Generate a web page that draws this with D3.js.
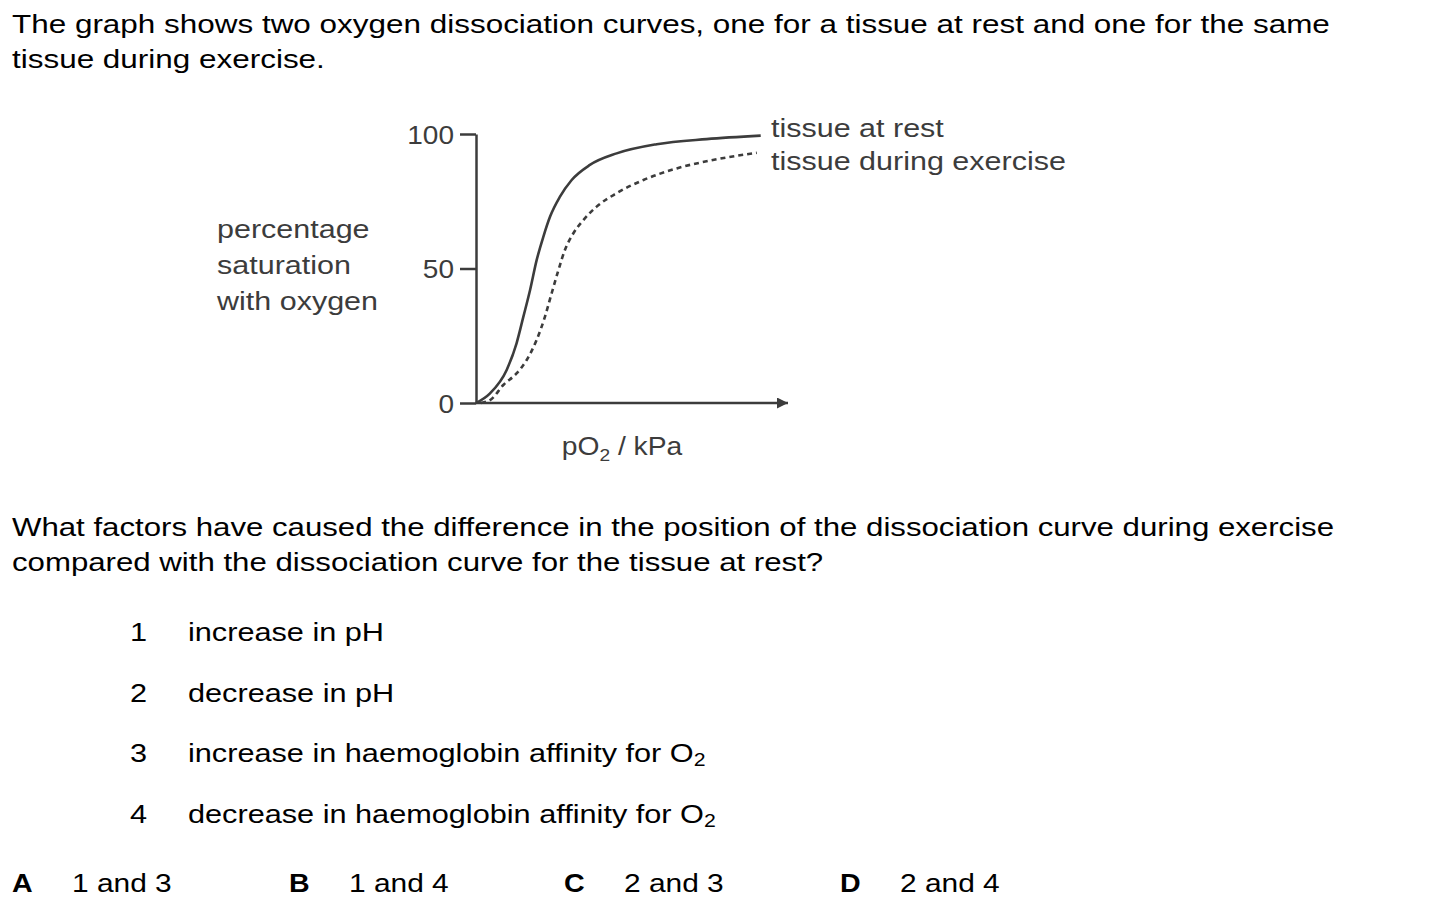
<!DOCTYPE html>
<html>
<head>
<meta charset="utf-8">
<script src="https://cdn.jsdelivr.net/npm/d3@7"></script>
<style>
  html, body { margin: 0; padding: 0; background: #fff; }
  svg { display: block; }
  text { font-family: "Liberation Sans", Arial, Helvetica, sans-serif; }
</style>
</head>
<body>
<svg id="chart" width="1431" height="912"></svg>
<script>
// ---- data ----
const introLines = [
  "The graph shows two oxygen dissociation curves, one for a tissue at rest and one for the same",
  "tissue during exercise."
];
const questionLines = [
  "What factors have caused the difference in the position of the dissociation curve during exercise",
  "compared with the dissociation curve for the tissue at rest?"
];
const itemNumbers = ["1", "2", "3", "4"];
const itemTexts = [
  ["increase in pH", ""],
  ["decrease in pH", ""],
  ["increase in haemoglobin affinity for O", "2"],
  ["decrease in haemoglobin affinity for O", "2"]
];
const answerLetters = ["A", "B", "C", "D"];
const answerTexts = ["1 and 3", "1 and 4", "2 and 3", "2 and 4"];

const yTicks = [0, 50, 100];
const yLabelLines = ["percentage", "saturation", "with oxygen"];
const seriesNames = ["tissue at rest", "tissue during exercise"];

const pO2Rest = [0, 0.54, 1.18, 1.56, 1.82, 2.08, 2.33, 2.59, 2.85, 3.23, 3.68, 4.38, 5.41, 6.95, 8.87, 10.95];
const satRest = [0, 3.6, 12.3, 22.2, 32, 42, 53, 61.8, 69.3, 76.7, 82.9, 88.5, 92.8, 96.2, 98.1, 99.4];
const pO2Exercise = [0.2, 0.6, 1.05, 1.56, 1.95, 2.33, 2.65, 2.91, 3.17, 3.42, 3.74, 4.13, 4.64, 5.41, 6.44, 7.72, 9.26, 10.8];
const satExercise = [0, 1.5, 6.7, 11, 16, 23.4, 32, 40.8, 49.4, 56.9, 63, 68, 73, 78, 82.9, 87.2, 90.6, 93];

// ---- drawing ----
const svg = d3.select("#chart");
const FS = 26;
const ink = "#000";
const grey = "#3c3c3c";

function stretchedText(g, x, y, opts = {}) {
  const sx = opts.sx || 1.2;
  return g.append("text")
    .attr("transform", `translate(${x},${y}) scale(${sx},1)`)
    .attr("font-size", opts.size || FS)
    .attr("fill", opts.fill || ink)
    .attr("font-weight", opts.weight || "normal")
    .attr("text-anchor", opts.anchor || "start");
}

// intro
introLines.forEach((s, i) => stretchedText(svg, 12, 33 + i * 35, { sx: 1.21 }).text(s));
// question
questionLines.forEach((s, i) => stretchedText(svg, 12, 536 + i * 35, { sx: 1.2 }).text(s));
// items
itemNumbers.forEach((n, i) => {
  const yb = 641 + i * 60.5;
  stretchedText(svg, 130, yb, { sx: 1.18 }).text(n);
  const t = stretchedText(svg, 188, yb, { sx: 1.18 });
  t.append("tspan").text(itemTexts[i][0]);
  if (itemTexts[i][1]) t.append("tspan").attr("font-size", 18).attr("dy", 4).text(itemTexts[i][1]);
});
// answers
const ansX = [12, 289, 564, 840];
answerLetters.forEach((L, i) => {
  stretchedText(svg, ansX[i], 892, { weight: "bold", sx: 1.1 }).text(L);
  stretchedText(svg, ansX[i] + 60, 892, { sx: 1.15 }).text(answerTexts[i]);
});

// chart
const x = d3.scaleLinear().domain([0, 12]).range([476, 788]);
const y = d3.scaleLinear().domain([0, 100]).range([403, 134]);

const defs = svg.append("defs");
defs.append("marker")
  .attr("id", "arrow").attr("viewBox", "0 0 10 10")
  .attr("refX", 10).attr("refY", 5)
  .attr("markerWidth", 22).attr("markerHeight", 11)
  .attr("markerUnits", "userSpaceOnUse")
  .attr("orient", "auto")
  .append("path").attr("d", "M0,0 L10,5 L0,10 Z").attr("fill", grey);

const yAxis = d3.axisLeft(y).tickValues(yTicks).tickSize(16).tickSizeOuter(0).tickPadding(6);
const gy = svg.append("g").attr("transform", `translate(${x(0)},0)`).call(yAxis);
gy.select(".domain").attr("stroke", grey).attr("stroke-width", 2.5);
gy.selectAll(".tick line").attr("stroke", grey).attr("stroke-width", 2.5);
gy.selectAll(".tick text").remove();
gy.selectAll(".tick").each(function(d) {
  stretchedText(d3.select(this), -22, 9, { anchor: "end", fill: grey, size: 25, sx: 1.12 }).text(d);
});

// x axis with arrow
svg.append("line")
  .attr("x1", x(0)).attr("x2", x(12))
  .attr("y1", y(0)).attr("y2", y(0))
  .attr("stroke", grey).attr("stroke-width", 2.5)
  .attr("marker-end", "url(#arrow)");

// y label
yLabelLines.forEach((s, i) => stretchedText(svg, 217, 238 + i * 36, { fill: grey, size: 25, sx: 1.22 }).text(s));

// x label
const xl = stretchedText(svg, 622, 455, { anchor: "middle", fill: grey, size: 25, sx: 1.13 });
xl.append("tspan").text("pO");
xl.append("tspan").attr("font-size", 17).attr("dy", 6).text("2");
xl.append("tspan").attr("dy", -6).text(" / kPa");

// curves
const line = d3.line().x(d => x(d[0])).y(d => y(d[1])).curve(d3.curveMonotoneX);
const restData = pO2Rest.map((v, i) => [v, satRest[i]]);
const exData = pO2Exercise.map((v, i) => [v, satExercise[i]]);

svg.append("path").datum(restData).attr("d", line)
  .attr("fill", "none").attr("stroke", grey).attr("stroke-width", 2.6);
svg.append("path").datum(exData).attr("d", line)
  .attr("fill", "none").attr("stroke", grey).attr("stroke-width", 2.6)
  .attr("stroke-dasharray", "5,4");

// legend labels at the ends of the curves
seriesNames.forEach((s, i) => {
  stretchedText(svg, 771, 137 + i * 33, { fill: grey, size: 25, sx: 1.22 }).text(s);
});
</script>
</body>
</html>
